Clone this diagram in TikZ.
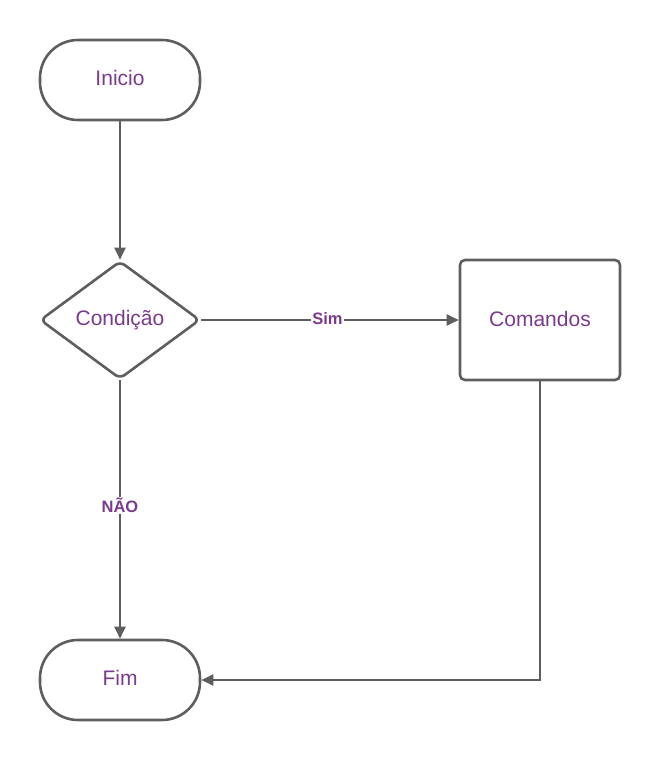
\documentclass[tikz,border=0pt]{standalone}
\usepackage{fontspec}
\setmainfont{Liberation Sans}
\usetikzlibrary{arrows.meta,shapes.geometric}
\definecolor{edgegray}{HTML}{5E5E5E}
\definecolor{textpurple}{HTML}{7B3A8C}
\begin{document}
\begin{tikzpicture}[x=1pt,y=-1pt,
  shape border/.style={draw=edgegray,line width=2.6pt,fill=white,text=textpurple,font=\fontsize{21}{24}\selectfont},
  terminal/.style={shape border,rectangle,rounded corners=38pt,minimum width=160pt,minimum height=80pt,inner sep=0pt},
  decision/.style={shape border,diamond,rounded corners=6pt,minimum width=160pt,minimum height=118pt,inner sep=0pt,aspect=1.36},
  process/.style={shape border,rectangle,rounded corners=5pt,minimum width=160pt,minimum height=120pt,inner sep=0pt},
  flow/.style={draw=edgegray,line width=2.2pt,-{Triangle[length=12pt,width=11pt]}},
  edgelabel/.style={fill=white,text=textpurple,font=\fontsize{16.5}{18}\selectfont\bfseries,inner sep=1pt}]
\useasboundingbox (0,0) rectangle (660,760);
\node[terminal] (inicio) at (120,80) {\raisebox{4pt}{Inicio}};
\node[decision] (cond) at (120,320) {\raisebox{4pt}{Condição}};
\node[process] (cmd) at (540,320) {\raisebox{3pt}{Comandos}};
\node[terminal] (fim) at (120,680) {\raisebox{4pt}{Fim}};
\draw[flow] (inicio.south) -- (cond.north);
\draw[flow] (cond.east) -- node[edgelabel,pos=0.49,yshift=1.5pt] {Sim} (cmd.west);
\draw[flow] (cond.south) -- node[edgelabel,pos=0.485] {NÃO} (fim.north);
\draw[flow] (cmd.south) |- (fim.east);
\end{tikzpicture}
\end{document}
